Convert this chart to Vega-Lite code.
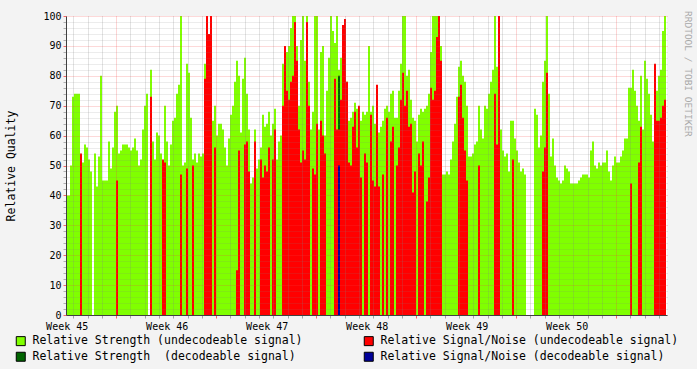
{
  "$schema": "https://vega.github.io/schema/vega-lite/v6.json",
  "width": 601,
  "height": 299,
  "autosize": "none",
  "padding": {"left": 66, "top": 16, "right": 30, "bottom": 54},
  "background": "#f3f3f3",
  "view": {"fill": "#ffffff", "stroke": null},
  "config": {
    "font": "DejaVu Sans Mono",
    "axis": {"labelFont": "DejaVu Sans Mono", "titleFont": "DejaVu Sans Mono"}
  },
  "title": {
    "text": "RRDTOOL / TOBI OETIKER",
    "orient": "right",
    "anchor": "start",
    "angle": 90,
    "font": "DejaVu Sans Mono",
    "fontSize": 9.5,
    "fontWeight": "normal",
    "color": "#a8a8a8",
    "offset": 4
  },
  "data": {
    "values": [
      {"i":0,"g":40},{"i":1,"g":40},{"i":2,"g":50},{"i":3,"g":73},{"i":4,"g":74},{"i":5,"g":74},{"i":6,"g":74},{"i":7,"g":47,"r":54},{"i":8,"g":51},{"i":9,"g":57},
      {"i":10,"g":56},{"i":11,"g":52},{"i":12,"g":48},{"i":14,"g":54},{"i":15,"g":43},{"i":16,"g":53},{"i":17,"g":80},{"i":18,"g":45},{"i":19,"g":45},
      {"i":20,"g":45},{"i":21,"g":58},{"i":22,"g":49},{"i":23,"g":56},{"i":24,"g":68},{"i":25,"g":70,"r":45},{"i":26,"g":54},{"i":27,"g":55},{"i":28,"g":57},{"i":29,"g":57},
      {"i":30,"g":57},{"i":31,"g":56},{"i":32,"g":55},{"i":33,"g":56},{"i":34,"g":59},{"i":35,"g":55},{"i":36,"g":50},{"i":37,"g":52},{"i":38,"g":62},{"i":39,"g":70},
      {"i":40,"g":74},{"i":42,"g":82,"r":73},{"i":43,"g":58},{"i":44,"g":52},{"i":45,"g":61},{"i":46,"g":60},{"i":47,"g":54},{"i":48,"g":50,"r":52},{"i":49,"g":70,"r":51},
      {"i":50,"g":58},{"i":51,"g":50},{"i":52,"g":57},{"i":53,"g":65},{"i":54,"g":66},{"i":55,"g":74},{"i":56,"g":77},{"i":57,"g":100,"r":47},{"i":58,"g":50},{"i":59,"g":51},
      {"i":60,"g":84,"r":49},{"i":61,"g":81},{"i":62,"g":66},{"i":63,"g":52,"r":50},{"i":64,"g":54},{"i":65,"g":51},{"i":66,"g":54},{"i":67,"g":53},{"i":68,"g":54},{"i":69,"g":84,"r":79},
      {"i":70,"g":84,"r":100},{"i":71,"g":84,"r":94},{"i":72,"g":84,"r":100},{"i":73,"g":65},{"i":74,"g":70,"r":56},{"i":75,"g":60},{"i":76,"g":64},{"i":77,"g":64},{"i":78,"g":62},{"i":79,"g":56},
      {"i":80,"g":50},{"i":81,"g":59},{"i":82,"g":67},{"i":83,"g":70},{"i":84,"g":78},{"i":85,"g":85,"r":15},{"i":86,"g":80,"r":55},{"i":87,"g":61},{"i":88,"g":79},{"i":89,"g":86,"r":57},
      {"i":90,"g":74,"r":58},{"i":91,"g":62,"r":48},{"i":92,"g":44},{"i":93,"g":46},{"i":94,"g":62,"r":58},{"i":95,"g":49},{"i":96,"g":52},{"i":97,"g":56,"r":52},{"i":98,"g":67,"r":46},{"i":99,"g":63,"r":50},
      {"i":100,"g":64,"r":48},{"i":101,"g":68,"r":56},{"i":102,"g":60},{"i":103,"g":64,"r":52},{"i":104,"g":69,"r":62},{"i":105,"g":52},{"i":106,"g":58},{"i":107,"g":60},{"i":108,"g":84,"r":70},{"i":109,"g":90,"r":90},
      {"i":110,"g":88,"r":75},{"i":111,"g":90,"r":72},{"i":112,"g":96,"r":78},{"i":113,"g":100,"r":80},{"i":114,"g":100,"r":98},{"i":115,"g":90,"r":85},{"i":116,"g":70,"r":62},{"i":117,"g":92,"r":51},{"i":118,"g":100,"r":55},{"i":119,"g":85,"r":52},
      {"i":120,"g":100,"r":98},{"i":121,"g":78,"r":70},{"i":122,"g":62},{"i":123,"g":68,"r":49},{"i":124,"g":100,"r":47},{"i":125,"g":100,"r":64},{"i":126,"g":62},{"i":127,"g":88,"r":65},{"i":128,"g":90,"r":60},{"i":129,"g":60,"r":54},
      {"i":130,"g":75},{"i":131,"g":86},{"i":132,"g":100},{"i":133,"g":95},{"i":134,"g":91,"r":79},{"i":135,"g":100,"r":62},{"i":136,"g":82,"r":62,"d":80,"b":50},{"i":137,"g":86,"r":72},{"i":138,"g":97,"r":97},{"i":139,"g":99,"r":99},
      {"i":140,"g":78,"r":78},{"i":141,"g":65,"r":51},{"i":142,"g":66,"r":50},{"i":143,"g":68,"r":63},{"i":144,"g":71,"r":68},{"i":145,"g":69,"r":56},{"i":146,"g":66,"r":70},{"i":147,"g":65,"r":46},{"i":148,"g":68},{"i":149,"g":67,"r":54},
      {"i":150,"g":68,"r":51},{"i":151,"g":90},{"i":152,"g":68,"r":67},{"i":153,"g":70,"r":45},{"i":154,"g":64,"r":43},{"i":155,"g":67,"r":77},{"i":156,"g":61,"r":43},{"i":157,"g":63},{"i":158,"g":65,"r":47},{"i":159,"g":69},
      {"i":160,"g":70,"r":66},{"i":161,"g":68},{"i":162,"g":74,"r":58},{"i":163,"g":75,"r":63},{"i":164,"g":66},{"i":165,"g":66,"r":50},{"i":166,"g":75,"r":56},{"i":167,"g":84,"r":72},{"i":168,"g":100,"r":81},{"i":169,"g":100,"r":70},
      {"i":170,"g":80,"r":75},{"i":171,"g":82,"r":63},{"i":172,"g":72,"r":64},{"i":173,"g":66,"r":41},{"i":174,"g":65,"r":48},{"i":175,"g":58},{"i":176,"g":67,"r":54},{"i":177,"g":69,"r":50},{"i":178,"g":68,"r":58},{"i":179,"g":69},
      {"i":180,"g":70,"r":38},{"i":181,"g":74,"r":46},{"i":182,"g":88,"r":76},{"i":183,"g":100,"r":72},{"i":184,"g":100,"r":75},{"i":185,"g":100,"r":93},{"i":186,"g":100,"r":100},{"i":187,"g":90,"r":85},{"i":188,"g":47},{"i":189,"g":47},
      {"i":190,"g":48},{"i":191,"g":47},{"i":192,"g":52},{"i":193,"g":58},{"i":194,"g":64},{"i":195,"g":73},{"i":196,"g":83,"r":73},{"i":197,"g":85,"r":77},{"i":198,"g":80,"r":66},{"i":199,"g":78,"r":55},
      {"i":200,"g":70,"r":45},{"i":201,"g":53},{"i":202,"g":53},{"i":203,"g":54},{"i":204,"g":57},{"i":205,"g":58},{"i":206,"g":70,"r":50},{"i":207,"g":62},{"i":208,"g":59},{"i":209,"g":70},
      {"i":210,"g":69},{"i":211,"g":74},{"i":212,"g":78},{"i":213,"g":82},{"i":214,"g":100,"r":74},{"i":215,"g":83,"r":57},{"i":216,"g":66,"r":100},{"i":217,"g":62},{"i":218,"g":55},{"i":219,"g":53},
      {"i":220,"g":54},{"i":221,"g":48},{"i":222,"g":65},{"i":223,"g":65,"r":52},{"i":224,"g":59},{"i":225,"g":55},{"i":226,"g":51},{"i":227,"g":48},{"i":228,"g":49},{"i":229,"g":47},
      {"i":234,"g":69},{"i":235,"g":67},{"i":236,"g":56},{"i":237,"g":60},{"i":238,"g":78,"r":48},{"i":239,"g":85,"r":56},
      {"i":240,"g":100,"r":81},{"i":241,"g":74},{"i":242,"g":53},{"i":243,"g":59},{"i":244,"g":50},{"i":245,"g":46},{"i":246,"g":45},{"i":247,"g":44},{"i":248,"g":45},{"i":249,"g":50},
      {"i":250,"g":49},{"i":251,"g":48},{"i":252,"g":44},{"i":253,"g":44},{"i":254,"g":44},{"i":255,"g":44},{"i":256,"g":45},{"i":257,"g":46},{"i":258,"g":47},{"i":259,"g":47},
      {"i":260,"g":47},{"i":261,"g":46},{"i":262,"g":55},{"i":263,"g":58},{"i":264,"g":50},{"i":265,"g":49},{"i":266,"g":51},{"i":267,"g":50},{"i":268,"g":51},{"i":269,"g":51},
      {"i":270,"g":55},{"i":271,"g":48},{"i":272,"g":45},{"i":273,"g":50},{"i":274,"g":53},{"i":275,"g":51},{"i":276,"g":51},{"i":277,"g":53},{"i":278,"g":55},{"i":279,"g":59},
      {"i":280,"g":59},{"i":281,"g":76},{"i":282,"g":76,"r":44},{"i":283,"g":82},{"i":284,"g":75},{"i":285,"g":70},{"i":286,"g":65,"r":51},{"i":287,"g":80,"r":63},{"i":288,"g":62},{"i":289,"g":85},
      {"i":290,"g":79},{"i":291,"g":74},{"i":292,"g":67},{"i":293,"g":58},{"i":294,"g":82,"r":84},{"i":295,"g":75,"r":65},{"i":296,"g":80,"r":65},{"i":297,"g":82,"r":66},{"i":298,"g":95,"r":70},{"i":299,"g":100,"r":72}
    ]
  },
  "transform": [{"fold": ["g", "d", "r", "b"], "as": ["s", "v"]}],
  "mark": {"type": "bar", "orient": "vertical", "width": 2},
  "encoding": {
    "x": {
      "field": "i", "type": "quantitative",
      "scale": {"domain": [-0.5, 300], "nice": false, "zero": false, "padding": 0},
      "axis": {
        "title": null,
        "zindex": 1,
        "values": [-0.15, 49.85, 99.85, 149.85, 199.85, 249.85, 3, 10.5, 17.5, 24.5, 31.5, 39, 46, 53, 60.5, 67.5, 74.5, 81.5, 89, 96, 103, 110.5, 117.5, 124.5, 131.5, 139, 146, 153, 160.5, 167.5, 174.5, 181.5, 189, 196, 203, 210.5, 217.5, 224.5, 231.5, 239, 246, 253, 260.5, 267.5, 274.5, 281.5, 289, 296],
        "labelExpr": "abs(round((datum.value+0.15)/50)*50-(datum.value+0.15))<0.01 ? 'Week ' + (45+round((datum.value+0.15)/50)) : ''",
        "labelFontSize": 10,
        "labelColor": "#000000",
        "labelPadding": 3,
        "labelAngle": 0,
        "labelOverlap": false,
        "labelFlush": false,
        "labelBound": false,
        "grid": true,
        "gridDash": [1, 1],
        "gridColor": {"condition": {"test": "abs(round((datum.value-24.5)/50)*50-(datum.value-24.5))<0.01", "value": "rgba(244,68,68,0.45)"}, "value": "rgba(130,130,130,0.45)"},
        "gridOpacity": {"condition": {"test": "abs(round((datum.value+0.15)/50)*50-(datum.value+0.15))<0.01", "value": 0}, "value": 1},
        "ticks": true,
        "tickSize": 3,
        "tickColor": {"condition": {"test": "abs(round((datum.value-24.5)/50)*50-(datum.value-24.5))<0.01", "value": "rgba(244,68,68,0.8)"}, "value": "rgba(130,130,130,0.7)"},
        "tickOpacity": {"condition": {"test": "abs(round((datum.value+0.15)/50)*50-(datum.value+0.15))<0.01", "value": 0}, "value": 1},
        "domain": true,
        "domainColor": "#404040",
        "domainWidth": 1
      }
    },
    "y": {
      "field": "v", "type": "quantitative", "stack": null,
      "scale": {"domain": [0, 100], "nice": false, "padding": 0},
      "axis": {
        "title": "Relative Quality",
        "titleFontSize": 11.5,
        "titleFontWeight": "normal",
        "titleColor": "#000000",
        "titlePadding": 26,
        "zindex": 1,
        "values": [0,2,4,6,8,10,12,14,16,18,20,22,24,26,28,30,32,34,36,38,40,42,44,46,48,50,52,54,56,58,60,62,64,66,68,70,72,74,76,78,80,82,84,86,88,90,92,94,96,98,100],
        "labelExpr": "datum.value % 10 == 0 ? datum.label : ''",
        "labelFontSize": 10,
        "labelColor": "#000000",
        "labelPadding": 2,
        "labelOverlap": false,
        "labelBound": false,
        "grid": true,
        "gridDash": [1, 1],
        "gridColor": {"condition": {"test": "datum.value % 10 == 0", "value": "rgba(244,68,68,0.4)"}, "value": "rgba(130,130,130,0.3)"},
        "tickSize": 3,
        "tickColor": {"condition": {"test": "datum.value % 10 == 0", "value": "rgba(244,68,68,0.8)"}, "value": "rgba(130,130,130,0.6)"},
        "domain": true,
        "domainColor": "#404040",
        "domainWidth": 1
      }
    },
    "color": {
      "field": "s",
      "type": "nominal",
      "scale": {
        "domain": ["g", "r", "d", "b"],
        "range": ["#80ff00", "#ff0000", "#006400", "#000099"]
      },
      "legend": {
        "orient": "none",
        "direction": "horizontal",
        "legendX": -51,
        "legendY": 319,
        "columns": 2,
        "title": null,
        "symbolType": "square",
        "symbolSize": 81,
        "symbolStrokeColor": "#000000",
        "symbolStrokeWidth": 1,
        "labelFont": "DejaVu Sans Mono",
        "labelFontSize": 11.5,
        "labelColor": "#000000",
        "labelOffset": 6,
        "columnPadding": 59,
        "rowPadding": 2,
        "labelLimit": 0,
        "labelExpr": "datum.label == 'g' ? 'Relative Strength (undecodeable signal)' : datum.label == 'r' ? 'Relative Signal/Noise (undecodeable signal)' : datum.label == 'd' ? 'Relative Strength\u00a0 (decodeable signal)' : 'Relative Signal/Noise (decodeable signal)'"
      }
    }
  }
}
